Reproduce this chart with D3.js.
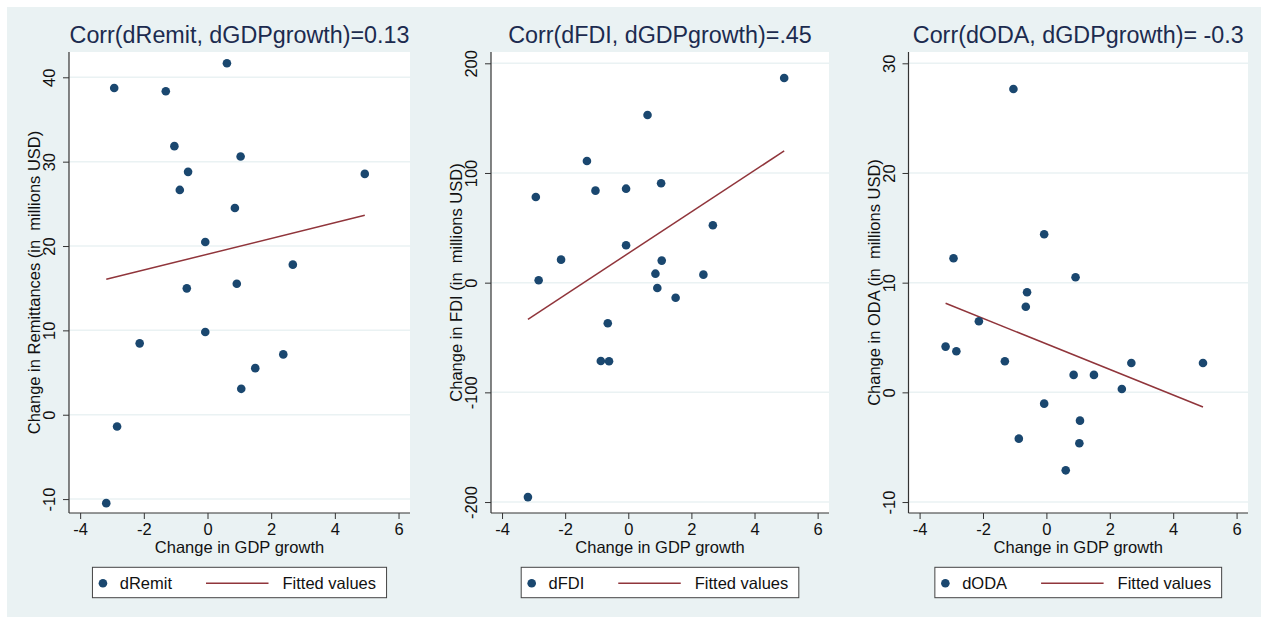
<!DOCTYPE html>
<html>
<head>
<meta charset="utf-8">
<script src="https://cdn.jsdelivr.net/npm/d3@7"></script>
<style>
  html, body { margin: 0; padding: 0; background: #ffffff; }
  svg { display: block; font-family: "Liberation Sans", Arial, Helvetica, sans-serif; }
  text { white-space: pre; }
</style>
</head>
<body>
<svg id="chart" width="1261" height="617"></svg>
<script>
// ---------------- DATA ----------------
const gdpGrowth = [-3.18, -2.93, -2.84, -2.13, -1.31, -1.04, -0.87, -0.65, -0.61, -0.07,
                   -0.07, 0.61, 0.86, 0.92, 1.04, 1.06, 1.50, 2.38, 2.68, 4.94];
const dRemit = [-10.48, 38.73, -1.39, 8.46, 38.34, 31.84, 26.65, 14.98, 28.79, 20.47,
                9.80, 41.66, 24.51, 15.53, 30.62, 3.07, 5.52, 7.15, 17.79, 28.55];
const dFDI   = [-195.5, 78.1, 2.2, 21.0, 110.9, 83.9, -71.4, -37.0, -71.7, 85.7,
                34.1, 152.9, 8.2, -4.8, 90.6, 20.1, -13.7, 7.3, 52.3, 186.6];
const dODA   = [4.17, 12.22, 3.75, 6.48, 2.84, 27.66, -4.22, 7.81, 9.12, 14.41,
                -1.03, -7.11, 1.59, 10.49, -4.64, -2.58, 1.59, 0.30, 2.68, 2.68];

// fitted (linear regression) line end points
const fitX      = [-3.18, 4.94];
const fitRemit  = [16.05, 23.65];
const fitFDI    = [-33.4, 120.1];
const fitODA    = [8.12, -1.34];

const titles  = ["Corr(dRemit, dGDPgrowth)=0.13", "Corr(dFDI, dGDPgrowth)=.45", "Corr(dODA, dGDPgrowth)= -0.3"];
const yTitles = ["Change in Remittances (in  millions USD)", "Change in FDI (in  millions USD)", "Change in ODA (in  millions USD)"];
const seriesNames = ["dRemit", "dFDI", "dODA"];
const fitName = "Fitted values";
const xTitle = "Change in GDP growth";
const xTicks = [-4, -2, 0, 2, 4, 6];
const yTicksRemit = [-10, 0, 10, 20, 30, 40];
const yTicksFDI   = [-200, -100, 0, 100, 200];
const yTicksODA   = [-10, 0, 10, 20, 30];

// ---------------- LAYOUT ----------------
const FONT_COLOR = "#111111";
const TITLE_COLOR = "#1c2b4f";
const BG = "#eaf2f3";
const NAVY = "#1a476f";
const MAROON = "#90353b";
const fmt = d => String(d);

const plotTop = 52, plotBottom = 513;
const xDomain = [-4.35, 6.36];
const panels = [
  { left: 69,    right: 410,  yDomain: [-11.65, 43.0],  yTicks: yTicksRemit, y: dRemit, fit: fitRemit },
  { left: 491,   right: 829,  yDomain: [-210, 210.3],   yTicks: yTicksFDI,   y: dFDI,   fit: fitFDI },
  { left: 908.5, right: 1248, yDomain: [-11.0, 31.03],  yTicks: yTicksODA,   y: dODA,   fit: fitODA }
];

const svg = d3.select("#chart");
svg.append("rect").attr("x", 0).attr("y", 0).attr("width", 1261).attr("height", 617).attr("fill", "#ffffff");
svg.append("rect").attr("x", 7).attr("y", 7).attr("width", 1254).attr("height", 610).attr("fill", BG);

panels.forEach((p, i) => {
  const g = svg.append("g");
  const x = d3.scaleLinear().domain(xDomain).range([p.left, p.right]);
  const y = d3.scaleLinear().domain(p.yDomain).range([plotBottom, plotTop]);

  // plot region
  g.append("rect").attr("x", p.left).attr("y", plotTop)
    .attr("width", p.right - p.left).attr("height", plotBottom - plotTop).attr("fill", "#ffffff");

  // grid lines
  g.selectAll(".grid").data(p.yTicks).enter().append("line")
    .attr("x1", p.left).attr("x2", p.right)
    .attr("y1", d => y(d)).attr("y2", d => y(d))
    .attr("stroke", BG).attr("stroke-width", 1.5);

  // title
  g.append("text").attr("x", (p.left + p.right) / 2).attr("y", 43)
    .attr("text-anchor", "middle").attr("font-size", 23.3).attr("fill", TITLE_COLOR)
    .text(titles[i]);

  // x axis
  const xAxis = g.append("g").attr("transform", `translate(0,${plotBottom})`)
    .call(d3.axisBottom(x).tickValues(xTicks).tickFormat(fmt).tickSize(6).tickPadding(4).tickSizeOuter(0));
  xAxis.select(".domain").remove();
  xAxis.selectAll("text").attr("font-size", 16.5).attr("fill", FONT_COLOR)
    .attr("font-family", '"Liberation Sans", Arial, sans-serif');
  xAxis.selectAll("line").attr("stroke", "#333");
  g.append("line").attr("x1", p.left).attr("x2", p.right).attr("y1", plotBottom).attr("y2", plotBottom)
    .attr("stroke", "#333").attr("stroke-width", 1.2);

  // y axis
  const yAxis = g.append("g").attr("transform", `translate(${p.left},0)`)
    .call(d3.axisLeft(y).tickValues(p.yTicks).tickFormat(fmt).tickSize(6).tickSizeOuter(0));
  yAxis.select(".domain").remove();
  yAxis.selectAll("line").attr("stroke", "#333");
  yAxis.selectAll("text")
    .attr("x", null).attr("dy", null)
    .attr("text-anchor", "middle")
    .attr("transform", "translate(-14,0) rotate(-90)")
    .attr("font-size", 16.5).attr("fill", FONT_COLOR)
    .attr("font-family", '"Liberation Sans", Arial, sans-serif');
  g.append("line").attr("x1", p.left).attr("x2", p.left).attr("y1", plotTop).attr("y2", plotBottom)
    .attr("stroke", "#333").attr("stroke-width", 1.2);

  // axis titles
  g.append("text").attr("x", (p.left + p.right) / 2).attr("y", 553.3)
    .attr("text-anchor", "middle").attr("font-size", 16.5).attr("fill", FONT_COLOR).text(xTitle);
  g.append("text")
    .attr("transform", `translate(${p.left - 29},${(plotTop + plotBottom) / 2}) rotate(-90)`)
    .attr("text-anchor", "middle").attr("font-size", 16.5).attr("fill", FONT_COLOR).text(yTitles[i]);

  // fitted line
  const line = d3.line().x(d => x(d[0])).y(d => y(d[1]));
  g.append("path").datum(fitX.map((v, k) => [v, p.fit[k]]))
    .attr("d", line).attr("fill", "none").attr("stroke", MAROON).attr("stroke-width", 1.5);

  // points
  g.selectAll(".pt").data(gdpGrowth.map((v, k) => [v, p.y[k]])).enter().append("circle")
    .attr("cx", d => x(d[0])).attr("cy", d => y(d[1])).attr("r", 4.3).attr("fill", NAVY);

  // legend
  const lg = g.append("g");
  const box = lg.append("rect").attr("fill", "#ffffff").attr("stroke", "#444").attr("stroke-width", 1);
  const t1 = lg.append("text").attr("font-size", 16.5).attr("fill", FONT_COLOR).text(seriesNames[i]);
  const t2 = lg.append("text").attr("font-size", 16.5).attr("fill", FONT_COLOR).text(fitName);
  const w1 = t1.node().getComputedTextLength();
  const w2 = t2.node().getComputedTextLength();
  const pad = 10.5, dotGap = 16.8, gap = 34, lineLen = 62.5, lineGap = 14;
  const W = pad + dotGap + w1 + gap + lineLen + lineGap + w2 + pad;
  const L = (p.left + p.right) / 2 - W / 2;
  const by = 567.3, bh = 30.4, cy = 583.2;
  box.attr("x", L).attr("y", by).attr("width", W).attr("height", bh);
  lg.append("circle").attr("cx", L + pad).attr("cy", cy).attr("r", 4.3).attr("fill", NAVY);
  t1.attr("x", L + pad + dotGap).attr("y", 589.3);
  const lx = L + pad + dotGap + w1 + gap;
  lg.append("line").attr("x1", lx).attr("x2", lx + lineLen).attr("y1", cy).attr("y2", cy)
    .attr("stroke", MAROON).attr("stroke-width", 1.5);
  t2.attr("x", lx + lineLen + lineGap).attr("y", 589.3);
});
</script>
</body>
</html>
